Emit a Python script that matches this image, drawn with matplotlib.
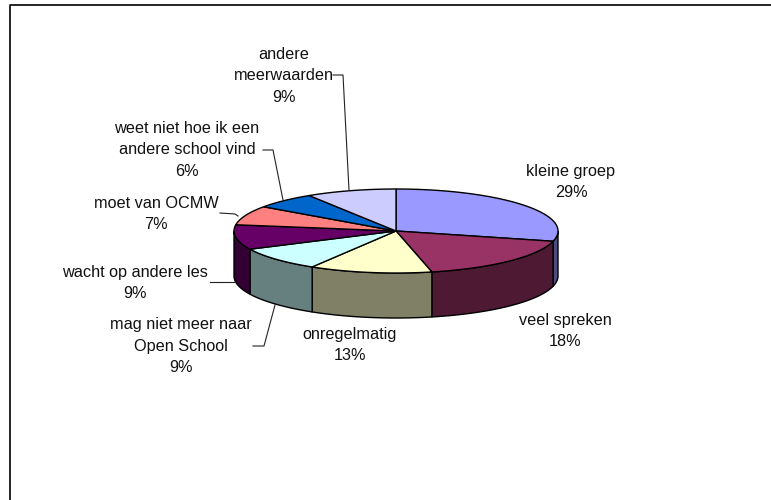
import numpy as np
from matplotlib import pyplot as plt
from matplotlib.patches import Polygon

# Aandeel per categorie, met de klok mee vanaf 12 uur (geschat uit de hoeken, in %)
labels = ['kleine groep', 'veel spreken', 'onregelmatig',
          'mag niet meer naar\nOpen School', 'wacht op andere les', 'moet van OCMW',
          'weet niet hoe ik een\nandere school vind', 'andere\nmeerwaarden']
values = [28.9, 17.5, 12.2, 9.2, 9.5, 7.4, 6.2, 9.0]
shown = [29, 18, 13, 9, 9, 7, 6, 9]
top_colors = ['#9999FF', '#993366', '#FFFFCC', '#CCFFFF', '#660066', '#FF8080', '#0066CC', '#CCCCFF']
side_colors = ['#4C4C80', '#4D1933', '#808066', '#668080', '#330033', '#804040', '#003366', '#666680']

cx, cy, rx, ry, depth = 396, 231, 162, 42, 45

fig = plt.figure(figsize=(7.71, 5.0), dpi=100)
ax = fig.add_axes([0, 0, 1, 1])
ax.set_xlim(0, 771)
ax.set_ylim(500, 0)
ax.axis('off')

# kader van de grafiek (rechts en onder afgesneden)
ax.plot([9.5, 9.5, 771], [500, 4.5, 4.5], color='black', lw=1.2)


def rim(a0, a1):
    t = np.radians(np.linspace(a0, a1, 80))
    return cx + rx * np.sin(t), cy - ry * np.cos(t)


edges = np.concatenate([[0], np.cumsum(values)]) / sum(values) * 360

# zijkant: alleen het deel tussen 90 en 270 graden is zichtbaar
for k in range(len(values)):
    a0, a1 = max(edges[k], 90), min(edges[k + 1], 270)
    if a1 <= a0:
        continue
    x, y = rim(a0, a1)
    pts = np.r_[np.c_[x, y], np.c_[x[::-1], y[::-1] + depth]]
    ax.add_patch(Polygon(pts, closed=True, fc=side_colors[k], ec='black', lw=1.0))

# bovenkant
for k in range(len(values)):
    x, y = rim(edges[k], edges[k + 1])
    pts = np.r_[[[cx, cy]], np.c_[x, y]]
    ax.add_patch(Polygon(pts, closed=True, fc=top_colors[k], ec='black', lw=1.0))

# labels: positie in pixels van de oorspronkelijke grafiek
label_pos = [(571, 182), (565, 331), (350, 345), (181, 346), (135, 283), (156, 214), (187, 150), (284, 76)]
for i, (tx, ty) in enumerate(label_pos):
    ax.text(tx, ty, f'{labels[i]}\n{shown[i]}%', ha='center', va='center', fontsize=11.7,
            family='Liberation Sans', color='#111111', linespacing=1.54)

# hulplijnen
leaders = [([210, 235], [282, 282]),
           ([253, 264, 275], [346, 346, 305]),
           ([220, 235, 238], [213, 214, 216]),
           ([263, 273, 283], [150, 150, 200]),
           ([333, 343, 349], [75, 75, 190])]
for lx, ly in leaders:
    ax.plot(lx, ly, color='#222222', lw=0.8)

fig.savefig('out.png', dpi=100)
